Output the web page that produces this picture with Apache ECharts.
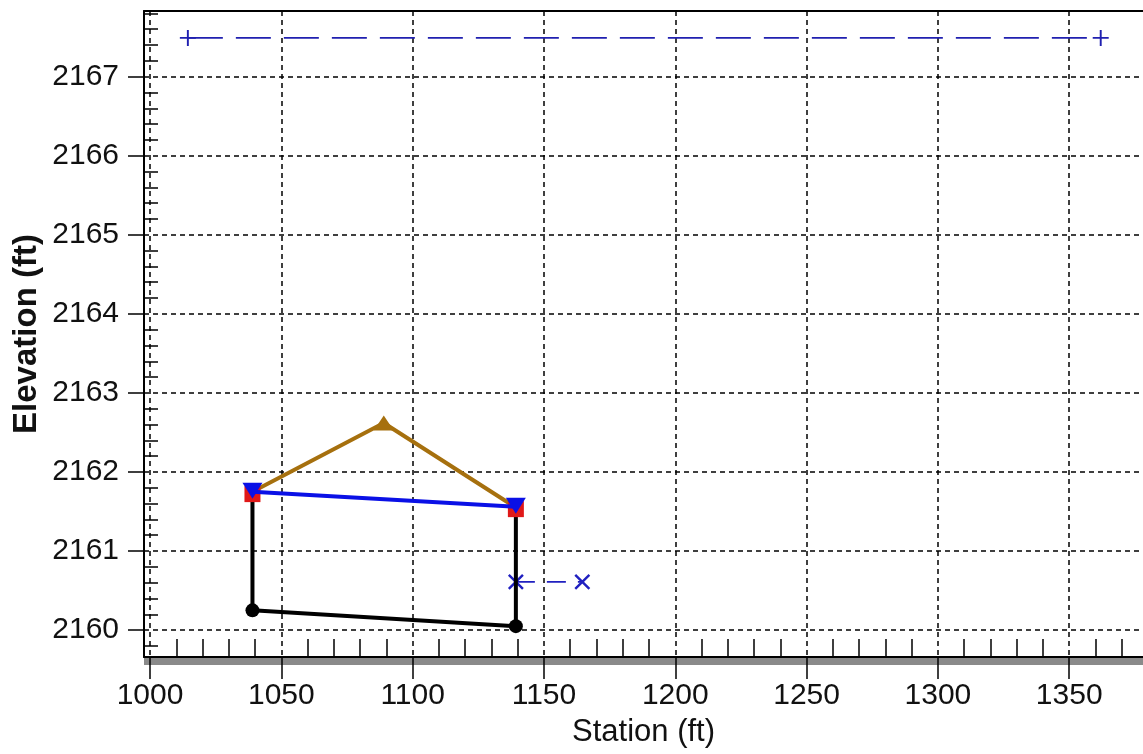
<!DOCTYPE html>
<html>
<head>
<meta charset="utf-8">
<script src="https://cdn.jsdelivr.net/npm/echarts@6/dist/echarts.min.js"></script>
<style>
  html, body { margin: 0; padding: 0; background: #fff; }
  #chart { width: 1143px; height: 754px; }
</style>
</head>
<body>
<div id="chart"></div>
<script>
// ---- data ----
const groundStation = [1039, 1039, 1139.3, 1139.3];
const groundElev    = [2161.75, 2160.25, 2160.05, 2161.55];
const groundPointStation = [1039, 1139.3];
const groundPointElev    = [2160.25, 2160.05];

const wsStation = [1039, 1139.3];
const wsElev    = [2161.75, 2161.56];

const bankStation = [1039, 1139.3];
const bankElev    = [2161.72, 2161.53];

const roadStation = [1039, 1089, 1139.3];
const roadElev    = [2161.75, 2162.62, 2161.55];

const egStation = [1014.4, 1362];
const egElev    = [2167.49, 2167.49];

const extStation = [1139.3, 1164.6];
const extElev    = [2160.61, 2160.61];

// ---- axis ticks ----
const xMajorTicks = [1000, 1050, 1100, 1150, 1200, 1250, 1300, 1350];
const yMajorTicks = [2160, 2161, 2162, 2163, 2164, 2165, 2166, 2167];
const xRange = [997.7, 1378.1];
const yRange = [2159.66, 2167.83];

const xMinorTicks = [];
for (let v = 1000; v <= 1370; v += 10) if (v % 50 !== 0) xMinorTicks.push(v);
const yMinorTicks = [];
for (let i = 0; i <= 40; i++) {
  const v = Math.round((2159.8 + i * 0.2) * 10) / 10;
  if (Math.abs(v - Math.round(v)) > 1e-6 && v < yRange[1]) yMinorTicks.push(v);
}

const zip = (a, b) => a.map((v, i) => [v, b[i]]);

const FONT = 'Liberation Sans, Arial, sans-serif';
const plusPath = 'path://M0,4.4H10V5.6H0Z M4.4,0H5.6V10H4.4Z';
const plain = v => String(Math.round(v));

const chart = echarts.init(document.getElementById('chart'), null, { renderer: 'canvas' });

const dashGrid = { show: true, lineStyle: { color: '#000', width: 1.5, type: [5, 4] } };

chart.setOption({
  animation: false,
  backgroundColor: '#fff',
  grid: { left: 144, top: 11, right: 0, bottom: 97, containLabel: false, outerBoundsMode: 'none' },
  xAxis: [
    {
      type: 'value', min: xRange[0], max: xRange[1], position: 'bottom',
      name: 'Station (ft)', nameLocation: 'middle', nameGap: 60, nameMoveOverlap: false,
      nameTextStyle: { fontFamily: FONT, fontSize: 31, color: '#111' },
      axisLine: { show: true, onZero: false, lineStyle: { color: '#000', width: 2 } },
      axisTick: { show: true, inside: false, length: 22, customValues: xMajorTicks, lineStyle: { color: '#000', width: 1.5 } },
      axisLabel: { show: true, customValues: xMajorTicks, formatter: plain, margin: 24, fontFamily: FONT, fontSize: 30, color: '#111' },
      splitLine: dashGrid,
      z: 3
    },
    {
      type: 'value', min: xRange[0], max: xRange[1], position: 'bottom',
      axisLine: { show: false },
      axisTick: { show: true, inside: true, length: 18, customValues: xMinorTicks, lineStyle: { color: '#000', width: 1.5 } },
      axisLabel: { show: false },
      splitLine: { show: false }
    },
    {
      type: 'value', min: xRange[0], max: xRange[1], position: 'bottom', offset: 4,
      axisLine: { show: true, onZero: false, lineStyle: { color: '#8a8a8a', width: 7, cap: 'butt' } },
      axisTick: { show: false }, axisLabel: { show: false }, splitLine: { show: false },
      z: 1
    },
    {
      type: 'value', min: xRange[0], max: xRange[1], position: 'top',
      axisLine: { show: true, onZero: false, lineStyle: { color: '#000', width: 2 } },
      axisTick: { show: false }, axisLabel: { show: false }, splitLine: { show: false }
    }
  ],
  yAxis: [
    {
      type: 'value', min: yRange[0], max: yRange[1], position: 'left',
      name: 'Elevation (ft)', nameLocation: 'middle', nameGap: 101, nameRotate: 90, nameMoveOverlap: false,
      nameTextStyle: { fontFamily: FONT, fontSize: 33, fontWeight: 'bold', color: '#111' },
      axisLine: { show: true, onZero: false, lineStyle: { color: '#000', width: 2 } },
      axisTick: { show: true, inside: false, length: 16, customValues: yMajorTicks, lineStyle: { color: '#000', width: 1.5 } },
      axisLabel: { show: true, customValues: yMajorTicks, formatter: plain, margin: 25, fontFamily: FONT, fontSize: 30, color: '#111' },
      splitLine: dashGrid,
      z: 3
    },
    {
      type: 'value', min: yRange[0], max: yRange[1], position: 'left',
      axisLine: { show: false },
      axisTick: { show: true, inside: true, length: 14, customValues: yMinorTicks, lineStyle: { color: '#000', width: 1.5 } },
      axisLabel: { show: false },
      splitLine: { show: false }
    }
  ],
  series: [
    {
      name: 'Energy grade', type: 'line', xAxisIndex: 0, yAxisIndex: 0,
      data: zip(egStation, egElev),
      symbol: plusPath, symbolSize: 16,
      itemStyle: { color: '#2020b0' },
      lineStyle: { color: '#2020b0', width: 1.8, type: [35, 13] },
      z: 5
    },
    {
      name: 'Ineffective', type: 'line', xAxisIndex: 0, yAxisIndex: 0,
      data: zip(extStation, extElev),
      symbol: plusPath, symbolRotate: 45, symbolSize: 20,
      itemStyle: { color: '#2020c0' },
      lineStyle: { color: '#2020c0', width: 1.8, type: [19, 12] },
      z: 5
    },
    {
      name: 'Ground', type: 'line', xAxisIndex: 0, yAxisIndex: 0,
      data: zip(groundStation, groundElev),
      showSymbol: false, symbol: 'none',
      lineStyle: { color: '#000', width: 4 },
      z: 6
    },
    {
      name: 'Ground points', type: 'scatter', xAxisIndex: 0, yAxisIndex: 0,
      data: zip(groundPointStation, groundPointElev),
      symbol: 'circle', symbolSize: 14,
      itemStyle: { color: '#000', opacity: 1 },
      z: 7
    },
    {
      name: 'Road', type: 'line', xAxisIndex: 0, yAxisIndex: 0,
      data: zip(roadStation, roadElev),
      symbol: 'none',
      lineStyle: { color: '#a6700e', width: 4 },
      z: 6
    },
    {
      name: 'Road apex', type: 'scatter', xAxisIndex: 0, yAxisIndex: 0,
      data: zip(roadStation.slice(1, 2), roadElev.slice(1, 2)),
      symbol: 'triangle', symbolSize: [20, 15],
      itemStyle: { color: '#a6700e', opacity: 1 },
      z: 7
    },
    {
      name: 'Bank', type: 'scatter', xAxisIndex: 0, yAxisIndex: 0,
      data: zip(bankStation, bankElev),
      symbol: 'rect', symbolSize: 16,
      itemStyle: { color: '#e01818', opacity: 1 },
      z: 8
    },
    {
      name: 'WS', type: 'line', xAxisIndex: 0, yAxisIndex: 0,
      data: zip(wsStation, wsElev),
      symbol: 'triangle', symbolRotate: 180, symbolSize: [20, 16], symbolOffset: [0, -1],
      itemStyle: { color: '#0a10e6', opacity: 1 },
      lineStyle: { color: '#0a10e6', width: 4 },
      z: 9
    }
  ]
});
</script>
</body>
</html>
